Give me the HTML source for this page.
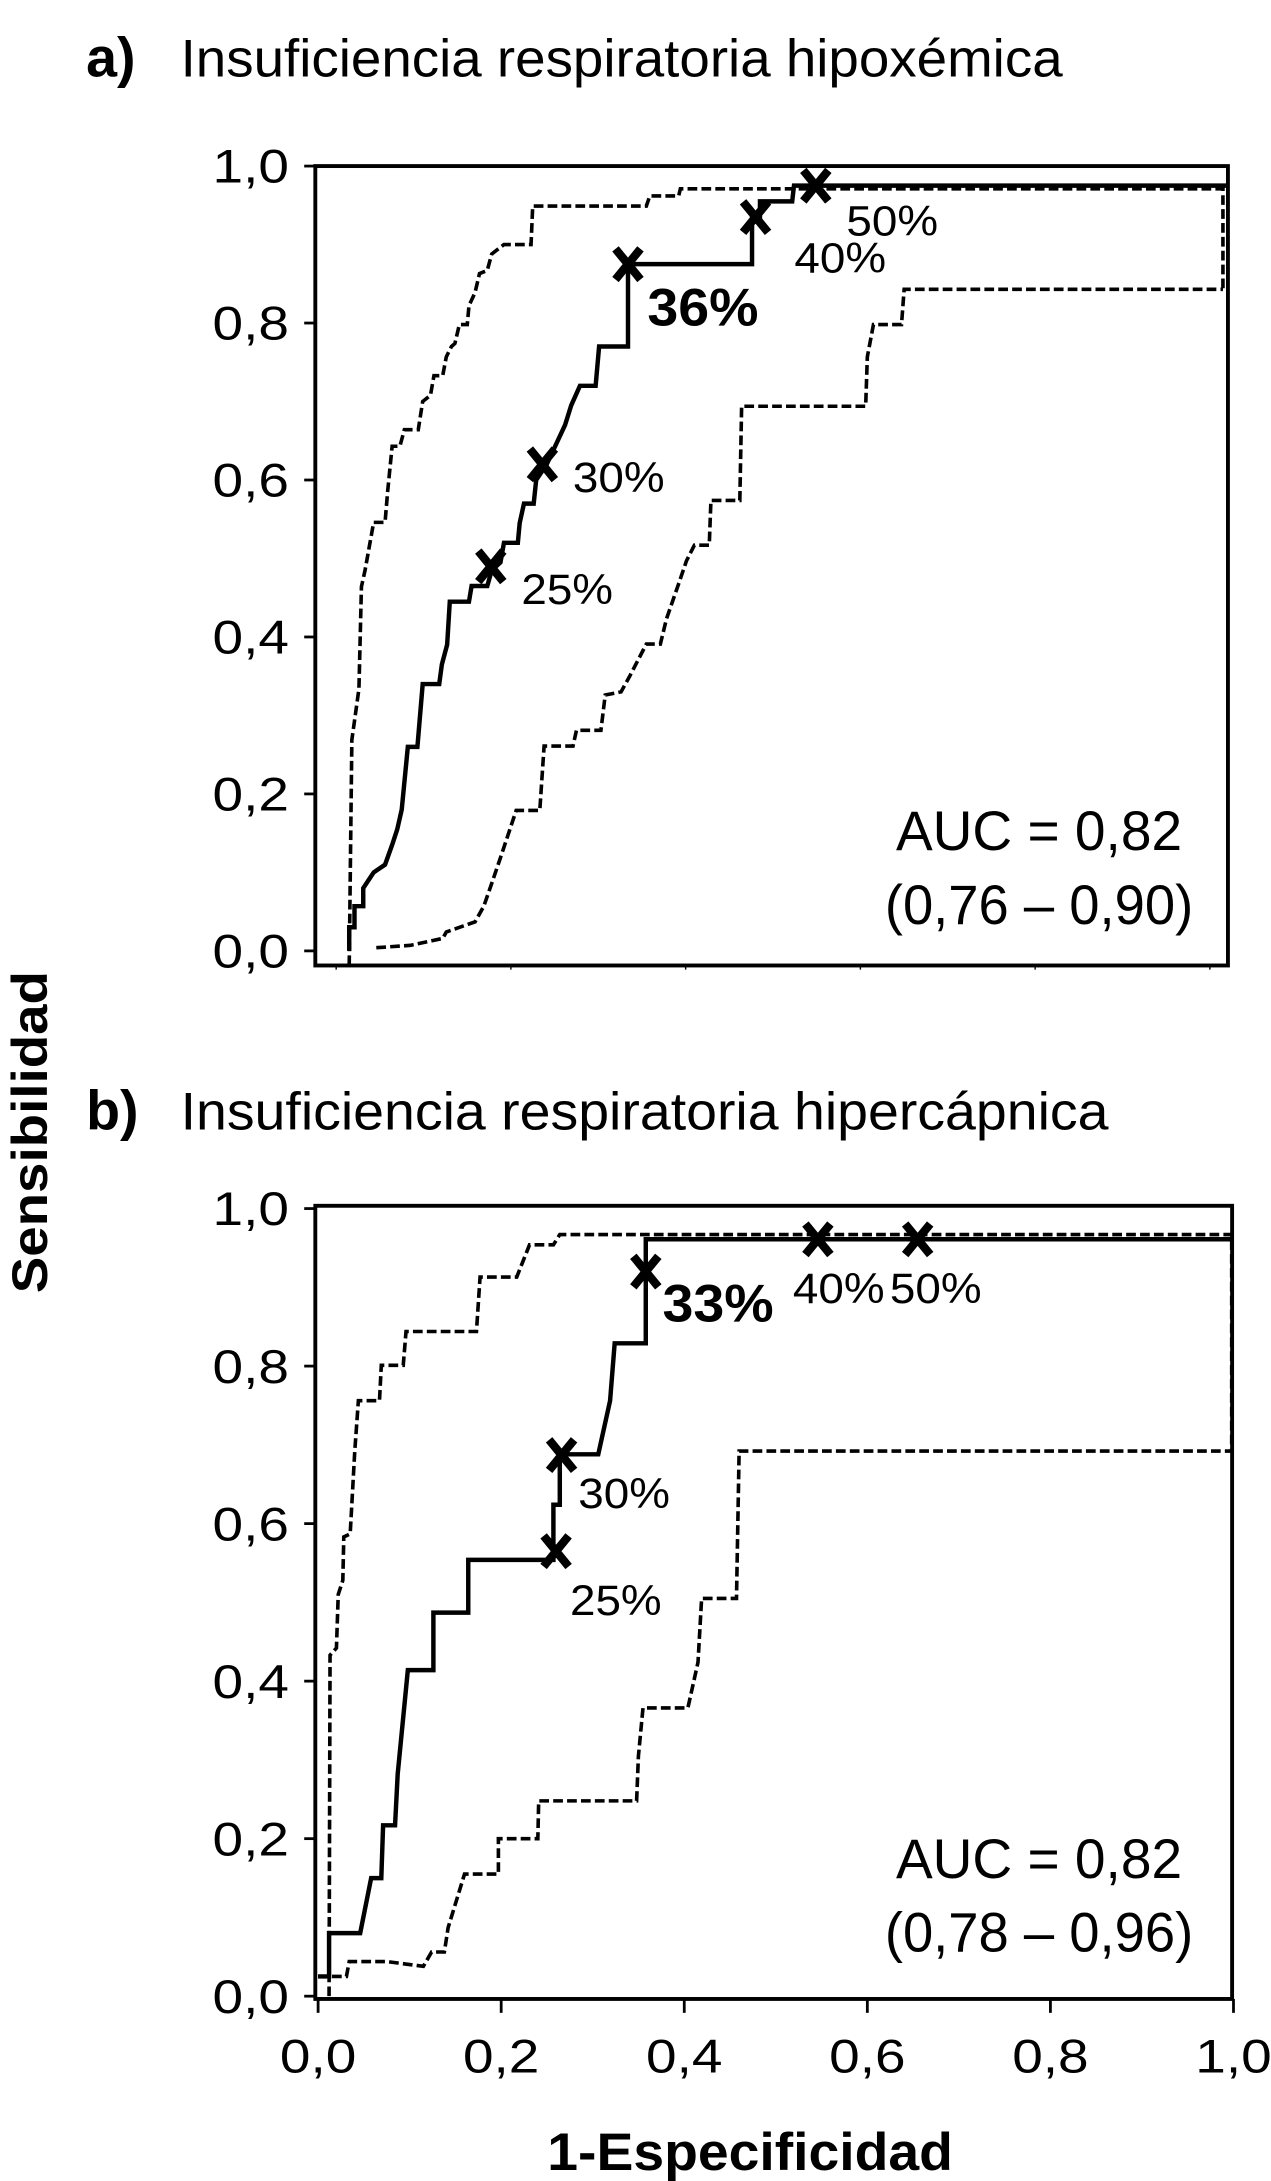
<!DOCTYPE html>
<html><head><meta charset="utf-8"><style>
html,body{margin:0;padding:0;background:#fff;}
svg{display:block;font-family:"Liberation Sans",Arial,sans-serif;}
</style></head><body>
<svg id="chart" width="1271" height="2181" viewBox="0 0 915 1570" xmlns="http://www.w3.org/2000/svg">
<g id="root"></g>
</svg>
<script>
// ---------- data ----------
const yTicks = [0, 0.2, 0.4, 0.6, 0.8, 1.0];
const yTickLabels = ["0,0", "0,2", "0,4", "0,6", "0,8", "1,0"];
const xTicks = [0, 0.2, 0.4, 0.6, 0.8, 1.0];
const xTickLabels = ["0,0", "0,2", "0,4", "0,6", "0,8", "1,0"];

// Panel a
const aSolidX = [0.015,0.015,0.021,0.021,0.031,0.031,0.043,0.056,0.064,0.070,0.075,0.082,0.093,0.099,0.118,0.121,0.127,0.130,0.152,0.155,0.173,0.178,0.188,0.192,0.208,0.210,0.215,0.226,0.229,0.241,0.262,0.269,0.279,0.297,0.301,0.334,0.334,0.476,0.476,0.485,0.485,0.522,0.524,1.02];
const aSolidY = [0,0.03,0.03,0.057,0.057,0.08,0.10,0.11,0.135,0.155,0.18,0.26,0.26,0.34,0.34,0.365,0.39,0.445,0.445,0.465,0.465,0.485,0.495,0.52,0.52,0.545,0.57,0.57,0.60,0.62,0.67,0.695,0.72,0.72,0.77,0.77,0.875,0.875,0.935,0.935,0.955,0.955,0.975,0.975];
const aUpperX = [0.015,0.018,0.021,0.026,0.029,0.033,0.043,0.056,0.059,0.064,0.073,0.078,0.094,0.099,0.108,0.112,0.122,0.126,0.132,0.136,0.141,0.150,0.152,0.159,0.164,0.173,0.178,0.192,0.223,0.225,0.355,0.359,0.392,0.394,1.015,1.015];
const aUpperY = [-0.018,0.269,0.293,0.334,0.464,0.485,0.546,0.546,0.586,0.643,0.643,0.664,0.664,0.70,0.708,0.733,0.733,0.757,0.77,0.774,0.798,0.798,0.822,0.839,0.863,0.867,0.888,0.90,0.90,0.949,0.949,0.962,0.962,0.971,0.971,0.843];
const aLowerX = [0.046,0.085,0.122,0.126,0.159,0.169,0.178,0.189,0.206,0.233,0.238,0.271,0.275,0.303,0.308,0.326,0.336,0.355,0.371,0.378,0.392,0.401,0.410,0.427,0.429,0.462,0.464,0.606,0.608,0.615,0.647,0.650,1.015];
const aLowerY = [0.004,0.007,0.016,0.024,0.037,0.057,0.086,0.122,0.179,0.179,0.261,0.261,0.281,0.281,0.326,0.33,0.35,0.391,0.391,0.423,0.468,0.497,0.517,0.517,0.574,0.574,0.694,0.694,0.757,0.798,0.798,0.843,0.843];
const aMarkX = [0.177,0.236,0.334,0.480,0.549];
const aMarkY = [0.49,0.62,0.875,0.935,0.975];
const aMarkLabels = ["25%","30%","36%","40%","50%"];

// Panel b
const bSolidX = [0,0.012,0.012,0.046,0.058,0.069,0.071,0.084,0.087,0.098,0.126,0.126,0.164,0.164,0.257,0.257,0.264,0.264,0.306,0.319,0.324,0.358,0.358,1.0];
const bSolidY = [0.025,0.025,0.08,0.08,0.15,0.15,0.217,0.217,0.282,0.414,0.414,0.487,0.487,0.554,0.554,0.624,0.624,0.688,0.688,0.756,0.829,0.829,0.961,0.961];
const bUpperX = [0.012,0.013,0.020,0.022,0.027,0.028,0.035,0.040,0.044,0.067,0.069,0.093,0.096,0.173,0.177,0.217,0.231,0.257,0.264,0.998,0.998];
const bUpperY = [0,0.433,0.442,0.51,0.528,0.583,0.587,0.692,0.756,0.756,0.801,0.801,0.844,0.844,0.913,0.913,0.954,0.954,0.967,0.967,0.692];
const bLowerX = [0,0.031,0.034,0.075,0.115,0.124,0.138,0.142,0.16,0.197,0.197,0.24,0.241,0.348,0.35,0.355,0.404,0.415,0.419,0.457,0.46,0.998];
const bLowerY = [0.025,0.025,0.044,0.044,0.038,0.056,0.056,0.087,0.155,0.155,0.2,0.2,0.248,0.248,0.305,0.366,0.366,0.424,0.505,0.505,0.692,0.692];
const bMarkX = [0.26,0.266,0.358,0.546,0.655];
const bMarkY = [0.565,0.687,0.92,0.961,0.961];
const bMarkLabels = ["25%","30%","33%","40%","50%"];

// ---------- drawing ----------
const NS = "http://www.w3.org/2000/svg";
const root = document.getElementById("root");
function mk(tag, attrs, parent) {
  const e = document.createElementNS(NS, tag);
  for (const k in attrs) e.setAttribute(k, attrs[k]);
  (parent || root).appendChild(e);
  return e;
}
function txt(s, attrs, parent) { const t = mk("text", attrs, parent); t.textContent = s; return t; }

const panels = [
  { id: "a", letter: "a)", title: "Insuficiencia respiratoria hipoxémica", ty: 55,
    x0: 242, xu: 629, y0: 684.5, yu: 565, box: [227, 119.5, 884, 695], showX: false,
    solid: [aSolidX, aSolidY], upper: [aUpperX, aUpperY], lower: [aLowerX, aLowerY],
    mx: aMarkX, my: aMarkY, ml: aMarkLabels,
    loff: [[22,27,false],[22,20,false],[14,44,true],[28,40,false],[22,36,false]],
    auc: ["AUC = 0,82", "(0,76 – 0,90)"], aucY: [612, 665] },
  { id: "b", letter: "b)", title: "Insuficiencia respiratoria hipercápnica", ty: 813,
    x0: 229, xu: 659, y0: 1437, yu: 567, box: [227, 868, 887, 1439], showX: true,
    solid: [bSolidX, bSolidY], upper: [bUpperX, bUpperY], lower: [bLowerX, bLowerY],
    mx: bMarkX, my: bMarkY, ml: bMarkLabels,
    loff: [[10,46,false],[12,38,false],[12,36,true],[-18,46,false],[-20,46,false]],
    auc: ["AUC = 0,82", "(0,78 – 0,96)"], aucY: [1352, 1405] }
];

panels.forEach(p => {
  const g = mk("g", {});
  
  
  const xs = v => p.x0 + p.xu * v;
  const ys = v => p.y0 - p.yu * v;

  const lt = txt(p.letter, { x: 62, y: p.ty, "font-size": 40, "font-weight": "bold" }, g);
  
  
  const tt = txt(p.title, { x: 130, y: p.ty, "font-size": 38, textLength: p.id === "a" ? 635 : 668, lengthAdjust: "spacingAndGlyphs" }, g);
  
  

  const [bl, bt, br, bb] = p.box;
  const box = mk("rect", { x: bl, y: bt, width: br - bl, height: bb - bt, fill: "none", stroke: "#000", "stroke-width": 2.8 }, g);
  
  

  yTicks.forEach((v, i) => {
    const tk = mk("line", { x1: bl - 8, x2: bl, y1: ys(v), y2: ys(v), stroke: "#000", "stroke-width": 2 }, g);
    
    
    const tl = txt(yTickLabels[i], { x: 208, y: ys(v) + 12, "font-size": 34, "text-anchor": "end", textLength: 55, lengthAdjust: "spacingAndGlyphs" }, g);
    
    
  });
  xTicks.forEach((v, i) => {
    const tk = mk("line", { x1: xs(v), x2: xs(v), y1: bb, y2: bb + (p.showX ? 10 : 3), stroke: "#000", "stroke-width": p.showX ? 2 : 1 }, g);
    
    
    if (p.showX) {
      const tl = txt(xTickLabels[i], { x: xs(v), y: 1492, "font-size": 34, "text-anchor": "middle", textLength: 55, lengthAdjust: "spacingAndGlyphs" }, g);
      
      
    }
  });

  function poly(xa, ya, name, dashed) {
    const pts = xa.map((x, i) => xs(x).toFixed(1) + "," + ys(ya[i]).toFixed(1)).join(" ");
    const pl = mk("polyline", { points: pts, fill: "none", stroke: "#000", "stroke-width": dashed ? 2.6 : 3.2,
      "stroke-dasharray": dashed ? "7,3" : "none", "stroke-linejoin": "miter" }, g);
    
    
  }
  poly(p.upper[0], p.upper[1], 'upper-ci-' + p.id, true);
  poly(p.lower[0], p.lower[1], 'lower-ci-' + p.id, true);
  poly(p.solid[0], p.solid[1], 'roc-curve-' + p.id, false);

  p.mx.forEach((x, i) => {
    const cx = xs(x), cy = ys(p.my[i]);
    const m = mk("path", { d: `M${cx-9},${cy-11}L${cx+9},${cy+11}M${cx+9},${cy-11}L${cx-9},${cy+11}`, stroke: "#000", "stroke-width": 6 }, g);
    
    
    const o = p.loff[i];
    const l = txt(p.ml[i], { x: cx + o[0], y: cy + o[1], "font-size": o[2] ? 38 : 31, "font-weight": o[2] ? "bold" : "normal",
      textLength: o[2] ? 80 : 66, lengthAdjust: "spacingAndGlyphs" }, g);
    
    
  });

  p.auc.forEach((s, i) => {
    const a = txt(s, { x: 748, y: p.aucY[i], "font-size": 40, "text-anchor": "middle", textLength: i ? 222 : 206, lengthAdjust: "spacingAndGlyphs" }, g);
    
    
  });
});

const yl = txt("Sensibilidad", { x: 0, y: 0, "font-size": 36, "font-weight": "bold", "text-anchor": "middle",
  transform: "translate(34,815) rotate(-90)", textLength: 232, lengthAdjust: "spacingAndGlyphs" });


const xl = txt("1-Especificidad", { x: 540, y: 1562, "font-size": 38, "font-weight": "bold", "text-anchor": "middle",
  textLength: 292, lengthAdjust: "spacingAndGlyphs" });


</script>
</body></html>
